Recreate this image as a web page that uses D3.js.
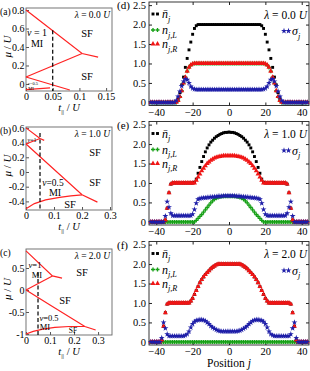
<!DOCTYPE html>
<html>
<head>
<meta charset="utf-8">
<title>Phase diagrams and density profiles</title>
<script src="https://d3js.org/d3.v7.min.js"></script>
<style>
    body { margin: 0; background: #fff; }
    text { font-family: "Liberation Serif", "DejaVu Serif", serif; fill: #000; }
</style>
</head>
<body>
<svg width="310" height="371"></svg>
<script>
    // ---- phase boundaries (t_par / U, mu / U) ----
    var linesA = [
        [[0, 0.8], [0.105, 0.33], [0.135, 0.29]],
        [[0, 0.075], [0.105, 0.33]],
        [[0, 0.075], [0.082, -0.065]],
        [[0, -0.062], [0.045, -0.042]]
    ];
    var dashA = [[0.05, 0.58], [0.05, -0.076]];

    var linesB = [
        [[0, 0.6], [0.05, 0.455], [0.065, 0.43]],
        [[0, 0.38], [0.05, 0.455]],
        [[0, 0.38], [0.2, -0.31], [0.255, -0.41]],
        [[0, -0.5], [0.03, -0.43], [0.07, -0.38], [0.12, -0.345], [0.16, -0.325], [0.2, -0.31]]
    ];
    var dashB = [[0.05, 0.53], [0.05, -0.517]];

    var linesC = [
        [[0, 0.89], [0.11, 0.32], [0.15, 0.27]],
        [[0, 0], [0.11, 0.32]],
        [[0, 0], [0.1, -0.34], [0.245, -0.83], [0.29, -0.91]],
        [[0, -1], [0.03, -0.94], [0.07, -0.89], [0.12, -0.85], [0.18, -0.83], [0.245, -0.83]]
    ];
    var dashC = [[0.05, 0.4], [0.05, -1.023]];

    var tTicksA = [0, 0.05, 0.1, 0.15];
    var tTicksB = [0, 0.1, 0.2, 0.3];
    var tTicksC = [0, 0.1, 0.2, 0.3];
    var muTicksA = [0, 0.2, 0.4, 0.6, 0.8];
    var muTicksB = [-0.4, -0.2, 0, 0.2, 0.4, 0.6];
    var muTicksC = [-1, -0.5, 0, 0.5];

    // ---- density profiles, site j = -43 .. 43 ----
    var positions = d3.range(-43, 44);
    var posTicks = [-40, -20, 0, 20, 40];
    var densTicks = [0, 0.5, 1, 1.5, 2, 2.5];

    // lambda = 0.0 U
    var nbarD = [0,0,0,0,0,0,0,0,0,0,0,0,0,0,
        .02,.1,.25,.45,.65,.9,1.13,1.35,1.55,1.75,1.9,1.97,2,
        2,2,2,2,2,2,2,2,2,2,2, 2,2,2,2,2,2,2,2,2,2,2, 2,2,2,2,2,2,2,2,2,2,2,
        2,1.97,1.9,1.75,1.55,1.35,1.13,.9,.65,.45,.25,.1,.02,
        0,0,0,0,0,0,0,0,0,0,0,0,0,0];
    var nLD = [0,0,0,0,0,0,0,0,0,0,0,0,0,0,0,
        .05,.15,.3,.5,.65,.8,.9,.96,.99,
        1,1,1,1,1,1,1,1,1,1,1,1,1, 1,1,1,1,1,1,1,1,1,1,1,1,1, 1,1,1,1,1,1,1,1,1,1,1,1,1,
        .99,.96,.9,.8,.65,.5,.3,.15,.05,
        0,0,0,0,0,0,0,0,0,0,0,0,0,0,0];
    var nRD = [0,0,0,0,0,0,0,0,0,0,0,0,0,0,0,
        .05,.15,.3,.5,.65,.8,.9,.96,.99,
        1,1,1,1,1,1,1,1,1,1,1,1,1, 1,1,1,1,1,1,1,1,1,1,1,1,1, 1,1,1,1,1,1,1,1,1,1,1,1,1,
        .99,.96,.9,.8,.65,.5,.3,.15,.05,
        0,0,0,0,0,0,0,0,0,0,0,0,0,0,0];
    var sigD = [0,0,0,0,0,0,0,0,0,0,0,0,0,0,
        .05,.15,.28,.42,.54,.6,.58,.5,.41,.36,.34,
        .33,.33,.33,.33,.33,.33,.33,.33,.33,.33,.33,.33,.33,.33,.33,.33,.33,.33,.33,
        .33,.33,.33,.33,.33,.33,.33,.33,.33,.33,.33,.33,.33,.33,.33,.33,.33,.33,
        .34,.36,.41,.5,.58,.6,.54,.42,.28,.15,.05,
        0,0,0,0,0,0,0,0,0,0,0,0,0,0];

    // lambda = 1.0 U
    var nbarE = [0,0,0,0,0,0,0,0,
        .05,.35,.75,.97,
        1,1,1,1,1,1,1,1,1,1,1,1,
        1.02,1.1,1.25,1.4,1.55,1.68,1.8,1.9,1.98,2.05,2.1,2.15,2.19,2.22,2.25,2.27,2.29,2.3,2.3,
        2.31,
        2.3,2.3,2.29,2.27,2.25,2.22,2.19,2.15,2.1,2.05,1.98,1.9,1.8,1.68,1.55,1.4,1.25,1.1,1.02,
        1,1,1,1,1,1,1,1,1,1,1,1,
        .97,.75,.35,.05,
        0,0,0,0,0,0,0,0];
    var nLE = [0,0,0,0,0,0,0,0,0,0,0,0,0,0,0,0,0,0,0,0,0,0,0,0,0,
        .04,.09,.14,.19,.25,.31,.37,.43,.49,.54,.58,.61,.63,.64,.65,.66,.66,.66,
        .66,
        .66,.66,.66,.65,.64,.63,.61,.58,.54,.49,.43,.37,.31,.25,.19,.14,.09,.04,
        0,0,0,0,0,0,0,0,0,0,0,0,0,0,0,0,0,0,0,0,0,0,0,0,0];
    var nRE = [0,0,0,0,0,0,0,0,
        .05,.35,.75,.97,
        1,1,1,1,1,1,1,1,1,1,1,1,
        1,1.07,1.15,1.23,1.31,1.38,1.44,1.5,1.54,1.58,1.61,1.64,1.66,1.67,1.68,1.69,1.7,1.7,1.7,
        1.7,
        1.7,1.7,1.7,1.69,1.68,1.67,1.66,1.64,1.61,1.58,1.54,1.5,1.44,1.38,1.31,1.23,1.15,1.07,1,
        1,1,1,1,1,1,1,1,1,1,1,1,
        .97,.75,.35,.05,
        0,0,0,0,0,0,0,0];
    var sigE = [0,0,0,0,0,0,0,0,
        .15,.52,.38,.22,
        .16,.16,.16,.16,.16,.16,.16,.16,.16,.16,.16,
        .2,.32,.48,.58,.6,.61,.62,.62,.63,.63,.64,.64,.65,.65,.66,.66,.66,.67,.67,.67,
        .67,
        .67,.67,.67,.66,.66,.66,.65,.65,.64,.64,.63,.63,.62,.62,.61,.6,.58,.48,.32,.2,
        .16,.16,.16,.16,.16,.16,.16,.16,.16,.16,.16,
        .22,.38,.52,.15,
        0,0,0,0,0,0,0,0];

    // lambda = 2.0 U
    var nbarF = [0,0,0,0,0,0,
        .05,.4,.75,.97,
        1,1,1,1,1,1,1,1,1,1,1,1,
        1.05,1.12,1.22,1.32,1.42,1.52,1.6,1.67,1.73,1.78,1.83,1.88,1.92,1.95,1.98,
        2,2,2,2,2,2,2,2,2,2,2,2,2,
        1.98,1.95,1.92,1.88,1.83,1.78,1.73,1.67,1.6,1.52,1.42,1.32,1.22,1.12,1.05,
        1,1,1,1,1,1,1,1,1,1,1,1,
        .97,.75,.4,.05,
        0,0,0,0,0,0];
    var nLF = [0,0,0,0,0,0,0,0,0,0,0,0,0,0,0,0,0,0,0,0,0,0,0,0,0,0,0,0,0,
        0,0,0,0,0,0,0,0,0,0,0,0,0,0,0,0,0,0,0,0,0,0,0,0,0,0,0,0,0,
        0,0,0,0,0,0,0,0,0,0,0,0,0,0,0,0,0,0,0,0,0,0,0,0,0,0,0,0,0];
    var nRF = [0,0,0,0,0,0,
        .05,.4,.75,.97,
        1,1,1,1,1,1,1,1,1,1,1,1,
        1.05,1.12,1.22,1.32,1.42,1.52,1.6,1.67,1.73,1.78,1.83,1.88,1.92,1.95,1.98,
        2,2,2,2,2,2,2,2,2,2,2,2,2,
        1.98,1.95,1.92,1.88,1.83,1.78,1.73,1.67,1.6,1.52,1.42,1.32,1.22,1.12,1.05,
        1,1,1,1,1,1,1,1,1,1,1,1,
        .97,.75,.4,.05,
        0,0,0,0,0,0];
    var sigF = [0,0,0,0,0,0,
        .1,.5,.35,.2,
        .15,.15,.15,.15,.15,.15,.15,.15,.15,
        .17,.2,.27,.37,.46,.52,.55,.56,.57,.57,.56,.54,.5,.46,.41,.37,.34,.31,.29,.28,
        .27,.27,.27,.27,.27,.27,.27,.27,.27,
        .28,.29,.31,.34,.37,.41,.46,.5,.54,.56,.57,.57,.56,.55,.52,.46,.37,.27,.2,.17,
        .15,.15,.15,.15,.15,.15,.15,.15,.15,
        .2,.35,.5,.1,
        0,0,0,0,0,0];

    var svg = d3.select("svg");

    // text with italic parts and subscripts: parts = [[str, "i" | "sub" | "isub"]]
    function rich(g, x, y, parts, size, anchor) {
        var t = g.append("text")
                .attr("x", x).attr("y", y)
                .attr("font-size", size)
                .attr("text-anchor", anchor || "start");
        var shift = 0;
        parts.forEach(function (p) {
            var f = p[1] || "";
            var s = t.append("tspan").text(p[0]);
            var want = f.indexOf("sub") >= 0 ? size * 0.3 : 0;
            s.attr("dy", want - shift);
            shift = want;
            if (f.indexOf("i") >= 0) s.attr("font-style", "italic");
            if (want) s.attr("font-size", size * 0.68);
        });
        return t;
    }

    function lamParts(v) {
        return [["λ", "i"], [" = " + v + " "], ["U", "i"]];
    }

    // ================= left column: phase diagrams =================
    var phase = [
        {lab: "(a)", lines: linesA, dash: dashA, xd: [0, 0.161], yd: [-0.076, 0.822], top: 8, bot: 91,
            xt: tTicksA, yt: muTicksA,
            notes: [
                [lamParts("0.0"), 110, 18, 9.5, "end"],
                [[["SF"]], 87, 36.5, 10.5, "middle"],
                [[["SF"]], 87, 79.5, 10.5, "middle"],
                [[["ν", "i"], [" = 1"]], 37, 35.5, 10, "middle"],
                [[["MI"]], 37, 46.5, 10, "middle"],
                [[["ν", "i"], ["=0.5"]], 33, 85, 4.5, "middle"],
                [[["MI"]], 31, 90.3, 4.5, "middle"]
            ]},
        {lab: "(b)", lines: linesB, dash: dashB, xd: [0, 0.307], yd: [-0.517, 0.612], top: 127, bot: 210,
            xt: tTicksB, yt: muTicksB,
            notes: [
                [lamParts("1.0"), 110, 136.5, 9.5, "end"],
                [[["SF"]], 95, 155.5, 10.5, "middle"],
                [[["SF"]], 95, 185.5, 10.5, "middle"],
                [[["SF"]], 70, 207.5, 10.5, "middle"],
                [[["ν", "i"], ["=0.5"]], 53, 185.5, 9.5, "middle"],
                [[["MI"]], 55, 196, 10, "middle"],
                [[["ν", "i"], ["=1"]], 32, 142, 6, "middle"]
            ]},
        {lab: "(c)", lines: linesC, dash: dashC, xd: [0, 0.358], yd: [-1.023, 0.932], top: 249, bot: 335,
            xt: tTicksC, yt: muTicksC,
            notes: [
                [lamParts("2.0"), 110, 258.5, 9.5, "end"],
                [[["ν", "i"], ["=1"]], 35, 268, 8.5, "middle"],
                [[["MI"]], 37, 277.5, 8.5, "middle"],
                [[["SF"]], 82, 275.5, 10.5, "middle"],
                [[["SF"]], 65, 303.5, 10.5, "middle"],
                [[["ν", "i"], ["=0.5"]], 49, 320.5, 8.5, "middle"],
                [[["MI"]], 45, 329.5, 8.5, "middle"],
                [[["SF"]], 73, 332.5, 7.5, "middle"]
            ]}
    ];

    phase.forEach(function (p) {
        var x = d3.scaleLinear().domain(p.xd).range([26, 112]);
        var y = d3.scaleLinear().domain(p.yd).range([p.bot, p.top]);
        var g = svg.append("g");

        g.append("g").attr("transform", "translate(0," + p.bot + ")")
                .call(d3.axisBottom(x).tickValues(p.xt).tickSize(-3).tickSizeOuter(0).tickPadding(1.5)
                        .tickFormat(function (d) { return String(d); }));
        g.append("g").attr("transform", "translate(26,0)")
                .call(d3.axisLeft(y).tickValues(p.yt).tickSize(-3).tickSizeOuter(0).tickPadding(1.5)
                        .tickFormat(function (d) { return String(d); }));
        g.selectAll(".domain").remove();
        g.selectAll(".tick line").attr("stroke", "#555");
        g.selectAll(".tick text").attr("font-size", 10).attr("font-family", null).attr("fill", "#000");

        g.append("rect")
                .attr("x", 26).attr("y", p.top)
                .attr("width", 86).attr("height", p.bot - p.top)
                .attr("fill", "none").attr("stroke", "#666").attr("stroke-width", 0.9);

        var line = d3.line()
                .x(function (d) { return x(d[0]); })
                .y(function (d) { return y(d[1]); });

        g.selectAll(".pb").data(p.lines).enter().append("path")
                .attr("class", "pb")
                .attr("d", line)
                .attr("fill", "none")
                .attr("stroke", "#ff2222")
                .attr("stroke-width", 1.2);

        g.append("path")
                .attr("d", line(p.dash))
                .attr("fill", "none")
                .attr("stroke", "#000")
                .attr("stroke-width", 1.2)
                .attr("stroke-dasharray", "4,2.5");

        p.notes.forEach(function (n) {
            rich(g, n[1], n[2], n[0], n[3], n[4]);
        });

        var cy = (p.top + p.bot) / 2;
        rich(g, 0, 0, [["μ", "i"], [" / "], ["U", "i"]], 11, "middle")
                .attr("transform", "translate(11," + (cy - 3) + ") rotate(-90)");
        rich(g, 69, p.bot + 19.5, [["t", "i"], ["||", "sub"], [" / "], ["U", "i"]], 10.5, "middle");
        g.append("text").attr("x", 0).attr("y", p.top + 6.5).attr("font-size", 9.5).text(p.lab);
    });

    // ================= right column: density profiles =================
    var dens = [
        {lab: "(d)", lam: "0.0", nbar: nbarD, nL: nLD, nR: nRD, sig: sigD, oy: 0},
        {lab: "(e)", lam: "1.0", nbar: nbarE, nL: nLE, nR: nRE, sig: sigE, oy: 119.5},
        {lab: "(f)", lam: "2.0", nbar: nbarF, nL: nLF, nR: nRF, sig: sigF, oy: 239.5}
    ];

    var series = [
        {key: "nL", color: "#16a016", sym: d3.symbol().type(d3.symbolCross).size(9)},
        {key: "nbar", color: "#000", sym: d3.symbol().type(d3.symbolSquare).size(8.5)},
        {key: "nR", color: "#f01515", sym: d3.symbol().type(d3.symbolTriangle).size(11)},
        {key: "sig", color: "#1e1ea8", sym: d3.symbol().type(d3.symbolStar).size(11)}
    ];
    var symOf = {};
    series.forEach(function (s) { symOf[s.key] = s; });

    var x2 = d3.scaleLinear().domain([-44, 44]).range([149, 309]);

    dens.forEach(function (p) {
        var top = 2 + p.oy, bot = 105.5 + p.oy;
        var y = d3.scaleLinear().domain([-0.08, 2.58]).range([bot, top]);
        var g = svg.append("g");

        g.append("g").attr("transform", "translate(0," + bot + ")")
                .call(d3.axisBottom(x2).tickValues(posTicks).tickSize(-3).tickSizeOuter(0).tickPadding(3));
        g.append("g").attr("transform", "translate(0," + top + ")")
                .call(d3.axisTop(x2).tickValues(posTicks).tickSize(-3).tickSizeOuter(0).tickFormat(""));
        g.append("g").attr("transform", "translate(149,0)")
                .call(d3.axisLeft(y).tickValues(densTicks).tickSize(-3).tickSizeOuter(0).tickPadding(3)
                        .tickFormat(function (d) { return d === 0 ? "0" : d3.format(".1f")(d); }));
        g.append("g").attr("transform", "translate(309,0)")
                .call(d3.axisRight(y).tickValues(densTicks).tickSize(-3).tickSizeOuter(0).tickFormat(""));
        g.selectAll(".domain").remove();
        g.selectAll(".tick line").attr("stroke", "#222");
        g.selectAll(".tick text").attr("font-size", 10.5).attr("font-family", null).attr("fill", "#000");

        g.append("rect")
                .attr("x", 149).attr("y", top)
                .attr("width", 160).attr("height", bot - top)
                .attr("fill", "none").attr("stroke", "#222").attr("stroke-width", 0.9);

        series.forEach(function (s) {
            var vals = p[s.key];
            g.append("g").selectAll("path").data(positions).enter().append("path")
                    .attr("d", s.sym)
                    .attr("transform", function (d, i) {
                        return "translate(" + x2(d) + "," + y(vals[i]) + ")";
                    })
                    .attr("fill", s.color);
        });

        // legend
        var rows = [["nbar", 14, [["n\u0304", "i"], ["j", "isub"]]],
            ["nL", 30, [["n", "i"], ["j,L", "isub"]]],
            ["nR", 44, [["n", "i"], ["j,R", "isub"]]]];
        rows.forEach(function (r) {
            var s = symOf[r[0]];
            [153, 157.5].forEach(function (mx) {
                g.append("path").attr("d", s.sym)
                        .attr("transform", "translate(" + mx + "," + (p.oy + r[1]) + ")")
                        .attr("fill", s.color);
            });
            rich(g, 162, p.oy + r[1] + 4, r[2], 12, "start");
        });
        [284, 288.5].forEach(function (mx) {
            g.append("path").attr("d", symOf.sig.sym)
                    .attr("transform", "translate(" + mx + "," + (p.oy + 31) + ")")
                    .attr("fill", symOf.sig.color);
        });
        rich(g, 292, p.oy + 35, [["σ", "i"], ["j", "isub"]], 12, "start");

        rich(g, 307, p.oy + 18.5, lamParts(p.lam), 11.5, "end");
        g.append("text").attr("x", 117).attr("y", p.oy + 9).attr("font-size", 11).text(p.lab);
    });

    rich(svg, 229, 366.5, [["Position "], ["j", "i"]], 11.5, "middle");
</script>
</body>
</html>
